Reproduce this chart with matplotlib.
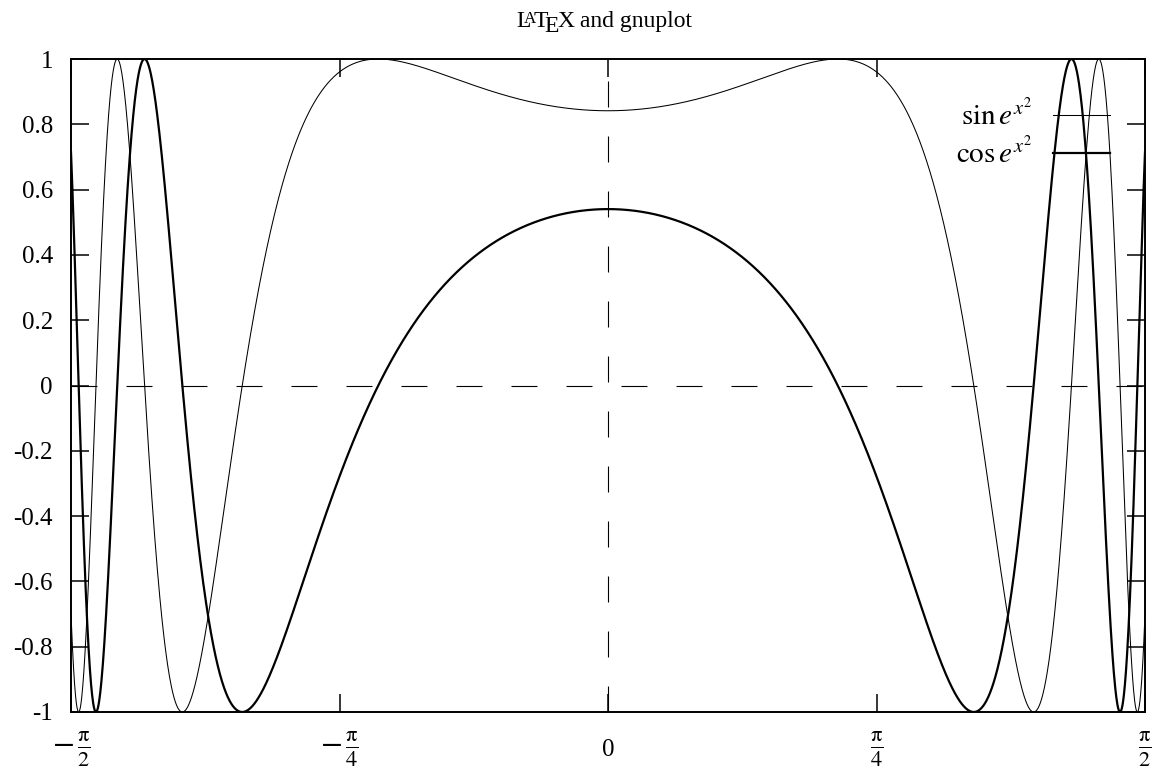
import numpy as np
import matplotlib
matplotlib.use("Agg")
import matplotlib.pyplot as plt
from matplotlib.transforms import IdentityTransform

plt.rcParams["font.family"] = ["Liberation Serif", "DejaVu Serif"]
plt.rcParams["mathtext.fontset"] = "stix"
plt.rcParams["lines.scale_dashes"] = False

# x range and the two curves named in the key
X_MIN, X_MAX, N_SAMPLES = -np.pi / 2, np.pi / 2, 3000
series_labels = [r"$\sin e^{x^2}$", r"$\cos e^{x^2}$"]
series_widths = [0.75, 1.6]
xtick_vals = [-np.pi / 2, -np.pi / 4, 0, np.pi / 4, np.pi / 2]
xtick_labels = [r"$-\,\frac{\mathrm{π}}{2}$", r"$-\,\frac{\mathrm{π}}{4}$", "0",
                r"$\frac{\mathrm{π}}{4}$", r"$\frac{\mathrm{π}}{2}$"]
ytick_vals = [-1, -0.8, -0.6, -0.4, -0.2, 0, 0.2, 0.4, 0.6, 0.8, 1]
ytick_labels = ["-1", "-0.8", "-0.6", "-0.4", "-0.2", "0",
                "0.2", "0.4", "0.6", "0.8", "1"]

x = np.linspace(X_MIN, X_MAX, N_SAMPLES)
curves = [np.sin(np.exp(x ** 2)), np.cos(np.exp(x ** 2))]

W, H = 1153, 769
L, R, T, B = 71, 1145, 59, 712
fig = plt.figure(figsize=(W / 100, H / 100), dpi=100)
ax = fig.add_axes([L / W, (H - B) / H, (R - L) / W, (B - T) / H])

# dashed zero axes
ax.axhline(0, color="k", lw=0.8, dashes=(18.7, 20.9))
ax.axvline(0, color="k", lw=0.8, dashes=(18.7, 20.9))

for y, lw in zip(curves, series_widths):
    ax.plot(x, y, color="k", lw=lw, solid_joinstyle="round")

ax.set_xlim(X_MIN, X_MAX)
ax.set_ylim(-1, 1)
ax.set_xticks(xtick_vals)
ax.set_xticklabels(xtick_labels)
for lab in ax.get_xticklabels():
    # fractions need a bigger size so numerator/denominator read like the digits
    lab.set_fontsize(18 if lab.get_text() == "0" else 23)
    lab.set_va("center")
ax.set_yticks(ytick_vals)
ax.set_yticklabels(ytick_labels, fontsize=18)
ax.tick_params(direction="in", length=13, width=1.1, top=True, right=True)
ax.tick_params(axis="y", pad=13)
ax.tick_params(axis="x", pad=27)
for s in ax.spines.values():
    s.set_linewidth(1.4)

# key, drawn over the curves without a box
def px_x(p):
    return (p - L) / (R - L)


def px_y(p):
    return (B - p) / (B - T)


key_y = [115, 153]
for lab, lw, ky in zip(series_labels, series_widths, key_y):
    ax.plot([px_x(1053), px_x(1110)], [px_y(ky), px_y(ky)], color="k", lw=lw,
            transform=ax.transAxes, clip_on=False)
    ax.text(px_x(1032), px_y(ky), lab, transform=ax.transAxes, ha="right",
            va="center", fontsize=21)

# title with the LaTeX logo pieced together
fs = 17
em = fs * 100 / 72
base_x, base_y = 516, H - 27
pieces = [("L", 0.0, 0.0, fs),
          ("A", 0.34, 0.19 * em, fs * 0.72),
          ("T", 0.76, 0.0, fs),
          ("E", 1.20, -0.22 * em, fs),
          ("X", 1.74, 0.0, fs),
          (" and gnuplot", 2.44, 0.0, fs)]
for s, dx, dy, size in pieces:
    fig.text(base_x + dx * em, base_y + dy, s, transform=IdentityTransform(),
             fontsize=size, ha="left", va="baseline")

fig.savefig("out.png", dpi=100)
